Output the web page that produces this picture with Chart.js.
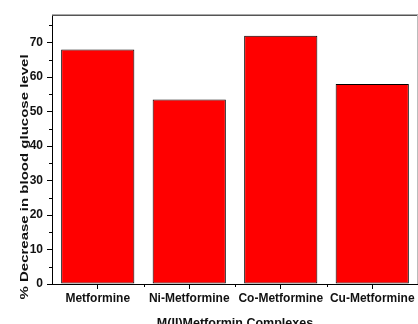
<!DOCTYPE html>
<html>
<head>
<meta charset="utf-8">
<script src="https://cdn.jsdelivr.net/npm/chart.js@4/dist/chart.umd.min.js"></script>
<style>
  html, body { margin: 0; padding: 0; background: #fff; }
  #wrap { width: 418px; height: 324px; position: relative; }
</style>
</head>
<body>
<div id="wrap"><canvas id="chart"></canvas></div>
<script>
// datos del gráfico
const categories = ['Metformine', 'Ni-Metformine', 'Co-Metformine', 'Cu-Metformine'];
const decrease = [68, 53.5, 72, 58];
const yMax = 78;
const yMinorTicks = [5, 15, 25, 35, 45, 55, 65, 75];

const fontFamily = "'Liberation Sans', Arial, sans-serif";

// ticks menores, marco y títulos de ejes
const extras = {
  id: 'extras',
  afterDraw(chart) {
    const ctx = chart.ctx;
    const x = chart.scales.x;
    const y = chart.scales.y;
    const area = chart.chartArea;
    ctx.save();

    // marco superior y derecho
    ctx.strokeStyle = '#555';
    ctx.lineWidth = 1.5;
    ctx.beginPath();
    ctx.moveTo(area.left, area.top + 0.25);
    ctx.lineTo(area.right, area.top + 0.25);
    ctx.stroke();
    ctx.strokeStyle = '#bbb';
    ctx.lineWidth = 1;
    ctx.beginPath();
    ctx.moveTo(area.right - 0.5, area.top);
    ctx.lineTo(area.right - 0.5, area.bottom);
    ctx.stroke();

    // ticks menores
    ctx.strokeStyle = '#000';
    ctx.lineWidth = 1;
    yMinorTicks.forEach(v => {
      const py = Math.round(y.getPixelForValue(v)) + 0.5;
      ctx.beginPath();
      ctx.moveTo(area.left - 3, py);
      ctx.lineTo(area.left, py);
      ctx.stroke();
    });
    for (let i = 0; i < categories.length - 1; i++) {
      const px = Math.round((x.getPixelForValue(i) + x.getPixelForValue(i + 1)) / 2) + 0.5;
      ctx.beginPath();
      ctx.moveTo(px, area.bottom);
      ctx.lineTo(px, area.bottom + 3);
      ctx.stroke();
    }

    // títulos
    ctx.fillStyle = '#111';
    ctx.font = 'bold 15px ' + fontFamily;
    ctx.textAlign = 'center';
    ctx.textBaseline = 'middle';
    ctx.translate(25, 177);
    ctx.rotate(-Math.PI / 2);
    ctx.scale(1, 0.78);
    ctx.fillText('% Decrease in blood glucose level', 0, 0);
    ctx.setTransform(1, 0, 0, 1, 0, 0);
    ctx.font = 'bold 12.5px ' + fontFamily;
    ctx.textBaseline = 'alphabetic';
    ctx.fillText('M(II)Metformin Complexes', (area.left + area.right) / 2, 327);
    ctx.restore();
  }
};

new Chart(document.getElementById('chart'), {
  type: 'bar',
  data: {
    labels: categories,
    datasets: [{
      data: decrease,
      backgroundColor: '#ff0000',
      borderColor: '#000',
      borderWidth: 1,
      borderSkipped: false,
      barPercentage: 0.8,
      categoryPercentage: 1
    }]
  },
  options: {
    responsive: true,
    maintainAspectRatio: false,
    animation: false,
    layout: { padding: { top: 15, right: 0, left: 0, bottom: 0 } },
    plugins: {
      legend: { display: false },
      tooltip: { enabled: false }
    },
    scales: {
      x: {
        afterFit: scale => { scale.height = 40; },
        grid: {
          offset: false,
          drawOnChartArea: false,
          tickLength: 5,
          color: '#000'
        },
        border: { color: '#000', width: 1 },
        ticks: {
          color: '#111',
          padding: 2,
          maxRotation: 0,
          autoSkip: false,
          font: { family: fontFamily, size: 12, weight: 'bold' }
        }
      },
      y: {
        min: 0,
        max: yMax,
        afterFit: scale => { scale.width = 52; },
        grid: {
          drawOnChartArea: false,
          tickLength: 5,
          color: '#000'
        },
        border: { color: '#000', width: 1 },
        ticks: {
          stepSize: 10,
          includeBounds: false,
          color: '#111',
          padding: 4,
          font: { family: fontFamily, size: 12, weight: 'bold' }
        }
      }
    }
  },
  plugins: [extras]
});
</script>
</body>
</html>
